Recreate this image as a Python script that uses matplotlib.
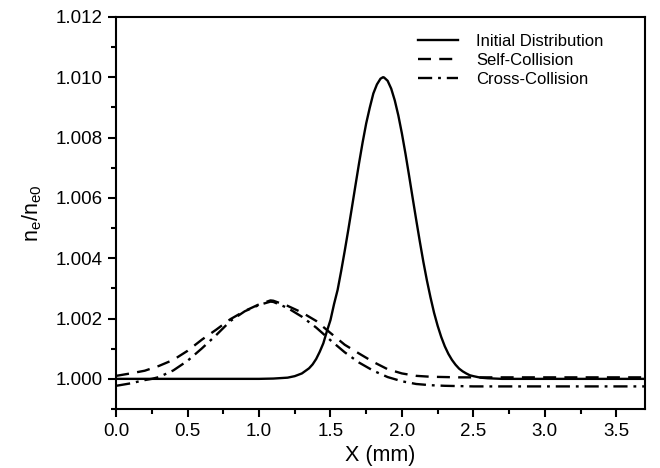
import matplotlib
matplotlib.use("Agg")
import matplotlib.pyplot as plt
from matplotlib.ticker import MultipleLocator, FormatStrFormatter

plt.rcParams['font.family'] = ['Liberation Sans', 'DejaVu Sans']

# Initial Distribution (solid)
x_init = [0.0, 0.5, 1.0, 1.10, 1.20, 1.25, 1.30, 1.35, 1.375, 1.40, 1.425, 1.45,
          1.475, 1.50, 1.525, 1.55, 1.575, 1.60, 1.625, 1.65, 1.675, 1.70, 1.725,
          1.75, 1.775, 1.80, 1.825, 1.85, 1.868, 1.875, 1.90, 1.925, 1.95, 1.975,
          2.00, 2.025, 2.05, 2.075, 2.10, 2.125, 2.15, 2.175, 2.20, 2.225, 2.25,
          2.275, 2.30, 2.325, 2.35, 2.375, 2.40, 2.425, 2.45, 2.475, 2.50, 2.55,
          2.60, 2.70, 3.0, 3.7]
y_init = [1.00000, 1.00000, 1.00000, 1.00001, 1.00004, 1.00009, 1.00018, 1.00035,
          1.00048, 1.00066, 1.00090, 1.00118, 1.00158, 1.00195, 1.00248, 1.00295,
          1.00358, 1.00425, 1.00495, 1.00568, 1.00642, 1.00715, 1.00784, 1.00847,
          1.00899, 1.00946, 1.00976, 1.00995, 1.01000, 1.00999, 1.00988, 1.00962,
          1.00923, 1.00873, 1.00813, 1.00746, 1.00674, 1.00600, 1.00527, 1.00456,
          1.00388, 1.00326, 1.00270, 1.00219, 1.00176, 1.00139, 1.00108, 1.00083,
          1.00063, 1.00047, 1.00034, 1.00025, 1.00018, 1.00012, 1.00009, 1.00004,
          1.00002, 1.00000, 1.00000, 1.00000]

# Self-Collision (dashed)
x_self = [0.0, 0.1, 0.2, 0.3, 0.4, 0.5, 0.6, 0.7, 0.8, 0.9, 1.0, 1.08, 1.1, 1.2,
          1.3, 1.4, 1.5, 1.6, 1.7, 1.8, 1.9, 2.0, 2.1, 2.2, 2.4, 2.6, 3.0, 3.7]
y_self = [1.00010, 1.00018, 1.00027, 1.00043, 1.00063, 1.00093, 1.00130, 1.00163,
          1.00198, 1.00225, 1.00247, 1.00260, 1.00259, 1.00242, 1.00220, 1.00192,
          1.00152, 1.00113, 1.00084, 1.00056, 1.00032, 1.00018, 1.00010, 1.00007,
          1.00005, 1.00005, 1.00005, 1.00005]

# Cross-Collision (dash-dot)
x_cross = [0.0, 0.1, 0.2, 0.25, 0.3, 0.4, 0.5, 0.6, 0.7, 0.8, 0.9, 1.0, 1.08, 1.1,
           1.2, 1.3, 1.4, 1.5, 1.6, 1.7, 1.8, 1.9, 2.0, 2.1, 2.2, 2.3, 2.5, 3.0, 3.7]
y_cross = [0.99977, 0.99985, 0.99996, 1.00000, 1.00006, 1.00028, 1.00060, 1.00101,
           1.00145, 1.00192, 1.00224, 1.00245, 1.00256, 1.00255, 1.00235, 1.00206,
           1.00170, 1.00128, 1.00088, 1.00054, 1.00027, 1.00006, 0.99992, 0.99983,
           0.99979, 0.99977, 0.99975, 0.99975, 0.99975]

labels = ["Initial Distribution", "Self-Collision", "Cross-Collision"]

fig = plt.figure(figsize=(6.6, 4.68), dpi=100)
ax = fig.add_axes([0.176, 0.126, 0.801, 0.838])

lw = 1.7
ax.plot(x_init, y_init, color='black', lw=lw, ls='-', label=labels[0])
ax.plot(x_self, y_self, color='black', lw=lw, ls=(0, (5.5, 3.5)), label=labels[1])
ax.plot(x_cross, y_cross, color='black', lw=lw, ls=(0, (6, 2.5, 1.2, 2.5)), label=labels[2])

ax.set_xlim(0.0, 3.7)
ax.set_ylim(0.999, 1.012)
ax.xaxis.set_major_locator(MultipleLocator(0.5))
ax.xaxis.set_minor_locator(MultipleLocator(0.25))
ax.yaxis.set_major_locator(MultipleLocator(0.002))
ax.yaxis.set_minor_locator(MultipleLocator(0.001))
ax.xaxis.set_major_formatter(FormatStrFormatter('%.1f'))
ax.yaxis.set_major_formatter(FormatStrFormatter('%.3f'))

for s in ax.spines.values():
    s.set_linewidth(1.5)
ax.tick_params(which='major', direction='out', length=6, width=1.5, labelsize=13.5,
               top=False, right=False, pad=4)
ax.tick_params(which='minor', direction='out', length=3.5, width=1.5,
               top=False, right=False)

ax.set_xlabel("X (mm)", fontsize=15.5, labelpad=4)
ax.set_ylabel(r"$\mathregular{n_e/n_{e0}}$", fontsize=15.5, labelpad=8)

ax.legend(loc='upper left', bbox_to_anchor=(0.571, 0.957), frameon=False,
          fontsize=12, handlelength=2.4, handletextpad=1.1, labelspacing=0.25,
          borderpad=0, borderaxespad=0)

fig.savefig("out.png", dpi=100)
